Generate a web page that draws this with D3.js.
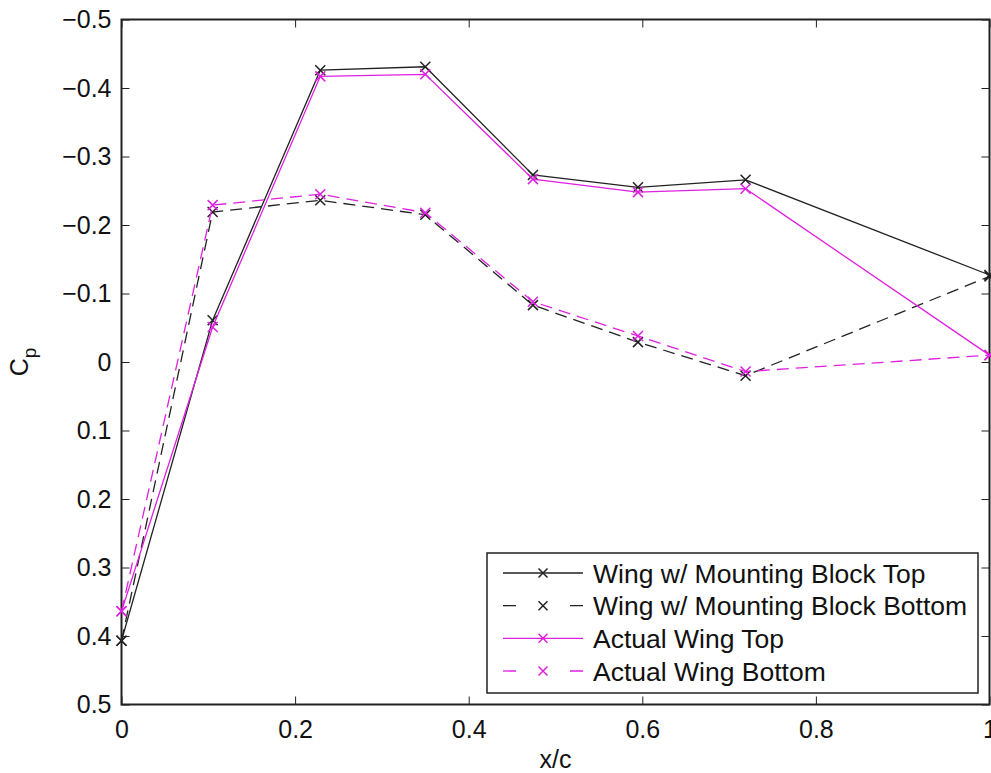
<!DOCTYPE html>
<html>
<head>
<meta charset="utf-8">
<script src="https://cdn.jsdelivr.net/npm/d3@7"></script>
<style>
  body { margin: 0; background: #fff; }
  text { font-family: "Liberation Sans", Arial, Helvetica, sans-serif; fill: #111; }
</style>
</head>
<body>
<div id="chart"></div>
<script>
// chord positions and pressure coefficients
const xc = [0, 0.105, 0.229, 0.35, 0.474, 0.595, 0.719, 1.0];
const blockTop = [0.407, -0.061, -0.426, -0.431, -0.273, -0.255, -0.266, -0.127];
const blockBottom = [0.407, -0.219, -0.236, -0.215, -0.083, -0.029, 0.020, -0.125];
const actualTop = [0.364, -0.051, -0.417, -0.420, -0.267, -0.248, -0.253, -0.010];
const actualBottom = [0.364, -0.229, -0.245, -0.218, -0.088, -0.038, 0.014, -0.010];

const xTicks = [0, 0.2, 0.4, 0.6, 0.8, 1];
const yTicks = [-0.5, -0.4, -0.3, -0.2, -0.1, 0, 0.1, 0.2, 0.3, 0.4, 0.5];

const seriesNames = [
  "Wing w/ Mounting Block Top",
  "Wing w/ Mounting Block Bottom",
  "Actual Wing Top",
  "Actual Wing Bottom"
];

const series = [
  { name: seriesNames[0], values: blockTop, color: "#222", dash: null },
  { name: seriesNames[1], values: blockBottom, color: "#222", dash: "12,7" },
  { name: seriesNames[2], values: actualTop, color: "#e020e0", dash: null },
  { name: seriesNames[3], values: actualBottom, color: "#e020e0", dash: "12,7" }
];

const width = 991;
const height = 773;
const marginLeft = 121.5;
const marginRight = 1.5;
const marginTop = 19.5;
const marginBottom = 68.5;
const chartWidth = width - marginLeft - marginRight;
const chartHeight = height - marginTop - marginBottom;

const svg = d3.select("#chart")
  .append("svg")
  .attr("width", width)
  .attr("height", height);

const g = svg.append("g")
  .attr("transform", `translate(${marginLeft}, ${marginTop})`);

const xScale = d3.scaleLinear().domain([0, 1]).range([0, chartWidth]);
// Cp axis reversed: negative at top
const yScale = d3.scaleLinear().domain([-0.5, 0.5]).range([0, chartHeight]);

const fmt = d3.format("");
const tickLen = 8;

// axes with inward ticks
const xAxisBottom = d3.axisBottom(xScale).tickValues(xTicks).tickSizeInner(-tickLen).tickSizeOuter(0)
  .tickPadding(16).tickFormat(fmt);
const xAxisTop = d3.axisTop(xScale).tickValues(xTicks).tickSizeInner(-tickLen).tickSizeOuter(0).tickFormat("");
const yAxisLeft = d3.axisLeft(yScale).tickValues(yTicks).tickSizeInner(-tickLen).tickSizeOuter(0)
  .tickPadding(10).tickFormat(fmt);
const yAxisRight = d3.axisRight(yScale).tickValues(yTicks).tickSizeInner(-tickLen).tickSizeOuter(0).tickFormat("");

function styleAxis(sel) {
  sel.select(".domain").remove();
  sel.selectAll("line").attr("stroke", "#222").attr("stroke-width", 1);
  sel.selectAll("text").style("font-size", "25px").attr("fill", "#111");
}

g.append("g").attr("transform", `translate(0, ${chartHeight})`).call(xAxisBottom).call(styleAxis);
g.append("g").call(xAxisTop).call(styleAxis);
g.append("g").call(yAxisLeft).call(styleAxis);
g.append("g").attr("transform", `translate(${chartWidth}, 0)`).call(yAxisRight).call(styleAxis);

// box
g.append("rect")
  .attr("width", chartWidth)
  .attr("height", chartHeight)
  .attr("fill", "none")
  .attr("stroke", "#222")
  .attr("stroke-width", 2);

// axis labels
svg.append("text")
  .attr("x", marginLeft + chartWidth / 2)
  .attr("y", height - 5)
  .attr("text-anchor", "middle")
  .style("font-size", "25px")
  .text("x/c");

const yl = svg.append("text")
  .attr("transform", `translate(28, ${marginTop + chartHeight / 2}) rotate(-90)`)
  .attr("text-anchor", "middle")
  .style("font-size", "25px");
yl.append("tspan").text("C");
yl.append("tspan").attr("dy", 8).style("font-size", "19px").text("p");

// lines
const line = d3.line()
  .x((d, i) => xScale(xc[i]))
  .y((d) => yScale(d));

const seriesG = g.append("g").attr("class", "series");

function cross(sel, size) {
  const s = size / 2;
  return sel.append("path")
    .attr("d", `M${-s},${-s}L${s},${s}M${-s},${s}L${s},${-s}`);
}

series.forEach((s) => {
  seriesG.append("path")
    .datum(s.values)
    .attr("d", line)
    .attr("fill", "none")
    .attr("stroke", s.color)
    .attr("stroke-width", 1.3)
    .attr("stroke-dasharray", s.dash);

  seriesG.selectAll(null)
    .data(s.values)
    .join("g")
    .attr("transform", (d, i) => `translate(${xScale(xc[i])}, ${yScale(d)})`)
    .each(function () {
      cross(d3.select(this), 10)
        .attr("stroke", s.color)
        .attr("stroke-width", 1.5)
        .attr("fill", "none");
    });
});

// legend
const legend = svg.append("g").attr("transform", "translate(487, 553)");
legend.append("rect")
  .attr("width", 491)
  .attr("height", 140)
  .attr("fill", "#fff")
  .attr("stroke", "#222")
  .attr("stroke-width", 1.5);

const legendY = d3.scalePoint().domain(seriesNames).range([20, 118]);

series.forEach((s) => {
  const row = legend.append("g").attr("transform", `translate(0, ${legendY(s.name)})`);
  row.append("line")
    .attr("x1", 16).attr("x2", 96)
    .attr("stroke", s.color)
    .attr("stroke-width", 1.3)
    .attr("stroke-dasharray", s.dash ? "13,54" : null);
  const m = row.append("g").attr("transform", "translate(56, 0)");
  cross(m, 9).attr("stroke", s.color).attr("stroke-width", 1.5);
  row.append("text")
    .attr("x", 106)
    .attr("dy", "0.36em")
    .style("font-size", "26.5px")
    .text(s.name);
});
</script>
</body>
</html>
